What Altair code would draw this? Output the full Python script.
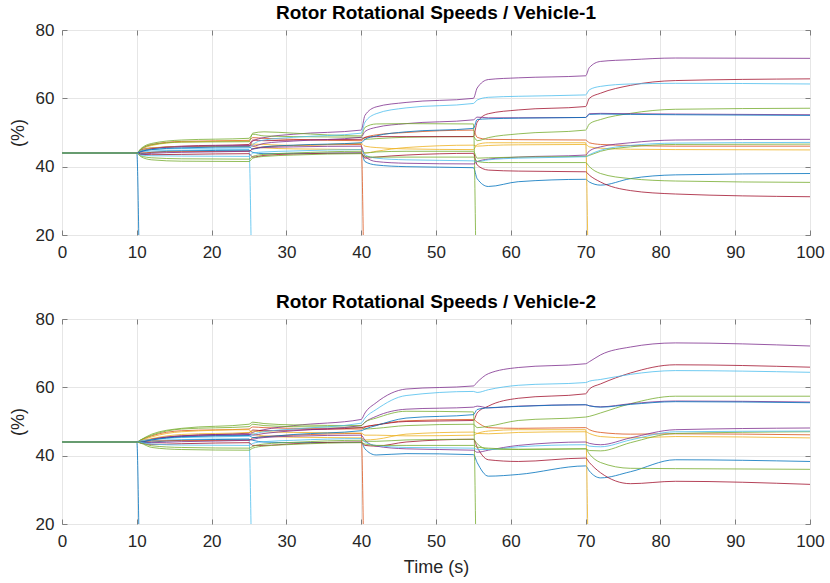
import altair as alt
import pandas as pd

# Time grid shared by every series (s)
TIME = [0, 10, 10.5, 12, 16, 25, 25.5, 27, 31, 40, 40.5, 42, 46, 55, 55.5, 57, 61, 70, 70.5, 72, 76, 82, 100]

ROTORS = ["R01", "R02", "R03", "R04", "R05", "R06", "R07", "R08", "R09", "R10",
          "R11", "R12", "R13", "R14", "R15", "R16", "R17", "R18", "R19"]
COLORS = ["#0072BD", "#D95319", "#EDB120", "#7E2F8E", "#77AC30", "#4DBEEE", "#A2142F",
          "#0072BD", "#D95319", "#EDB120", "#7E2F8E", "#77AC30", "#4DBEEE", "#A2142F",
          "#0072BD", "#7E2F8E", "#77AC30", "#4DBEEE", "#77AC30"]

X_TICKS = [0, 10, 20, 30, 40, 50, 60, 70, 80, 90, 100]
Y_TICKS = [20, 40, 60, 80]

# ---------------- Vehicle-1 ----------------
V1_R01 = [44, 44, 0, 0, 0, 0, 0, 0, 0, 0, 0, 0, 0, 0, 0, 0, 0, 0, 0, 0, 0, 0, 0]
V1_R02 = [44, 44, 45.0, 46.5, 47.4, 47.7, 48.5, 48.3, 48.0, 47.6, 48.5, 49.3, 50.0, 50.7, 48.6, 48.0, 47.9, 47.8, 47.0, 46.5, 46.2, 46.0, 46.0]
V1_R03 = [44, 44, 44.8, 46.2, 47.2, 47.5, 46.0, 45.5, 45.2, 45.0, 44.0, 44.5, 45.6, 46.3, 46.0, 46.2, 46.4, 46.5, 45.8, 45.4, 45.1, 45.0, 44.9]
V1_R04 = [44, 44, 44.8, 45.5, 45.8, 46.0, 47.5, 48.5, 49.5, 50.7, 55.0, 57.5, 58.8, 60.0, 63.0, 65.5, 66.0, 66.6, 69.0, 70.8, 71.3, 71.8, 71.7]
V1_R05 = [44, 44, 45.2, 46.8, 47.8, 48.3, 49.5, 49.0, 48.8, 48.6, 48.0, 48.2, 48.6, 48.8, 47.6, 48.5, 49.6, 50.7, 52.5, 53.8, 55.6, 56.8, 57.1]
V1_R06 = [44, 44, 44.2, 44.6, 44.8, 45.0, 0, 0, 0, 0, 0, 0, 0, 0, 0, 0, 0, 0, 0, 0, 0, 0, 0]
V1_R07 = [44, 44, 44.5, 45.3, 46.0, 46.5, 47.8, 47.6, 47.8, 48.0, 48.6, 48.8, 48.8, 48.8, 53.0, 55.5, 56.6, 57.6, 60.0, 61.5, 63.8, 65.2, 65.7]
V1_R08 = [44, 44, 43.8, 44.2, 44.6, 44.8, 44.2, 43.8, 43.9, 44.0, 41.5, 40.5, 40.0, 39.7, 36.5, 34.2, 35.6, 36.3, 35.5, 34.6, 36.5, 37.6, 38.0]
V1_R09 = [44, 44, 44.0, 44.2, 44.4, 44.5, 45.2, 45.8, 46.2, 46.5, 0, 0, 0, 0, 0, 0, 0, 0, 0, 0, 0, 0, 0]
V1_R10 = [44, 44, 44.6, 45.5, 45.9, 46.0, 46.6, 46.5, 46.2, 46.8, 46.0, 45.6, 45.2, 45.0, 46.5, 47.0, 47.0, 47.0, 0, 0, 0, 0, 0]
V1_R11 = [44, 44, 44.3, 45.2, 45.9, 46.2, 46.0, 46.8, 47.5, 48.6, 50.3, 51.5, 52.6, 53.7, 54.5, 54.3, 54.3, 54.4, 55.5, 55.6, 55.5, 55.4, 55.2]
V1_R12 = [44, 44, 45.0, 46.4, 47.2, 47.3, 49.8, 50.2, 49.8, 49.0, 51.5, 52.5, 52.6, 52.5, 0, 0, 0, 0, 0, 0, 0, 0, 0]
V1_R13 = [44, 44, 44.6, 45.0, 45.3, 45.5, 46.5, 47.8, 48.6, 49.8, 53.0, 55.5, 57.2, 58.5, 59.5, 60.3, 60.6, 61.0, 62.5, 63.5, 64.2, 64.4, 64.2]
V1_R14 = [44, 44, 43.6, 43.5, 43.6, 43.8, 42.8, 43.3, 43.7, 44.0, 42.5, 42.8, 43.4, 43.9, 40.5, 39.0, 38.7, 38.5, 37.5, 35.5, 33.0, 32.0, 31.2]
V1_R15 = [44, 44, 44.4, 45.0, 45.5, 45.8, 45.2, 45.8, 46.3, 47.0, 48.0, 49.0, 50.2, 51.2, 53.8, 54.0, 54.2, 54.4, 55.3, 55.4, 55.3, 55.2, 55.0]
V1_R16 = [44, 44, 43.6, 43.9, 44.2, 44.5, 45.2, 45.6, 45.8, 46.0, 43.0, 41.5, 41.0, 40.8, 41.5, 42.2, 42.8, 43.4, 44.6, 45.8, 47.0, 47.8, 48.0]
V1_R17 = [44, 44, 43.2, 42.6, 42.3, 42.2, 43.0, 43.6, 44.0, 44.5, 44.0, 44.3, 44.5, 44.5, 42.5, 42.6, 42.8, 43.0, 43.3, 44.5, 45.8, 46.5, 46.6]
V1_R18 = [44, 44, 43.4, 43.2, 43.1, 43.0, 44.0, 44.3, 44.6, 45.0, 43.5, 42.5, 42.0, 41.7, 41.5, 42.0, 42.5, 42.9, 43.5, 44.8, 46.2, 46.9, 47.1]
V1_R19 = [44, 44, 43.0, 42.0, 41.6, 41.5, 42.5, 43.0, 43.4, 43.8, 43.0, 42.8, 42.8, 42.8, 41.5, 41.2, 41.2, 41.2, 40.0, 38.0, 36.5, 35.8, 35.4]

# ---------------- Vehicle-2 ----------------
V2_R01 = [44, 44, 0, 0, 0, 0, 0, 0, 0, 0, 0, 0, 0, 0, 0, 0, 0, 0, 0, 0, 0, 0, 0]
V2_R02 = [44, 44, 44.5, 45.8, 47.3, 47.8, 48.4, 48.2, 48.0, 47.8, 48.3, 49.0, 50.2, 50.6, 49.8, 48.2, 48.0, 48.2, 47.6, 46.8, 46.3, 46.4, 46.1]
V2_R03 = [44, 44, 44.4, 45.5, 47.0, 47.6, 46.4, 45.8, 45.4, 45.2, 44.6, 44.8, 46.3, 46.9, 46.5, 46.4, 46.8, 47.0, 46.5, 45.6, 45.2, 45.6, 45.2]
V2_R04 = [44, 44, 44.3, 44.8, 45.6, 46.2, 46.8, 47.6, 48.8, 50.6, 52.5, 55.5, 59.5, 60.4, 61.5, 64.0, 65.8, 66.9, 67.5, 69.5, 71.8, 73.0, 72.1]
V2_R05 = [44, 44, 44.6, 46.0, 47.8, 48.5, 49.2, 48.8, 48.5, 48.3, 47.8, 48.0, 48.8, 49.2, 48.2, 48.6, 50.3, 51.3, 51.5, 52.5, 55.2, 57.4, 57.4]
V2_R06 = [44, 44, 44.1, 44.4, 44.7, 44.9, 0, 0, 0, 0, 0, 0, 0, 0, 0, 0, 0, 0, 0, 0, 0, 0, 0]
V2_R07 = [44, 44, 44.1, 44.8, 45.8, 46.6, 47.5, 47.3, 47.5, 48.2, 48.5, 49.0, 50.0, 50.3, 52.5, 54.5, 56.8, 58.1, 59.5, 61.0, 64.2, 66.6, 65.9]
V2_R08 = [44, 44, 43.8, 44.0, 44.5, 44.8, 44.5, 44.0, 43.8, 43.9, 42.0, 40.2, 40.6, 40.3, 38.0, 34.0, 34.5, 37.0, 35.5, 33.5, 35.3, 38.8, 38.3]
V2_R09 = [44, 44, 44.0, 44.3, 44.4, 44.5, 45.2, 45.6, 46.0, 46.5, 0, 0, 0, 0, 0, 0, 0, 0, 0, 0, 0, 0, 0]
V2_R10 = [44, 44, 44.2, 45.0, 46.2, 46.8, 47.2, 47.0, 46.8, 46.6, 46.0, 46.0, 45.8, 46.0, 46.5, 47.2, 47.6, 47.6, 0, 0, 0, 0, 0]
V2_R11 = [44, 44, 44.0, 44.8, 45.8, 46.3, 46.0, 46.5, 47.3, 48.8, 49.8, 51.5, 53.6, 54.2, 54.5, 54.0, 54.5, 54.9, 54.6, 54.3, 55.2, 56.0, 55.7]
V2_R12 = [44, 44, 44.6, 46.3, 48.0, 49.2, 49.8, 49.4, 49.0, 48.8, 49.8, 51.0, 53.0, 52.8, 0, 0, 0, 0, 0, 0, 0, 0, 0]
V2_R13 = [44, 44, 44.3, 44.7, 45.3, 45.7, 46.2, 47.0, 47.8, 49.5, 51.0, 53.5, 57.6, 58.8, 58.5, 59.3, 60.6, 61.4, 61.8, 62.3, 63.8, 64.9, 64.4]
V2_R14 = [44, 44, 43.7, 43.3, 43.5, 43.8, 43.0, 43.0, 43.5, 44.0, 43.0, 42.8, 44.0, 44.8, 42.5, 38.8, 38.3, 39.3, 38.0, 35.0, 31.8, 32.5, 31.6]
V2_R15 = [44, 44, 44.0, 44.6, 45.5, 45.9, 45.3, 45.5, 46.2, 47.3, 47.8, 48.8, 51.0, 52.0, 53.5, 54.0, 54.4, 54.9, 54.6, 54.2, 55.0, 55.8, 55.5]
V2_R16 = [44, 44, 43.8, 43.8, 44.1, 44.5, 44.8, 45.3, 45.7, 46.0, 44.5, 42.8, 42.0, 41.6, 41.0, 41.6, 43.0, 44.0, 43.6, 43.2, 45.2, 47.6, 48.1]
V2_R17 = [44, 44, 43.8, 42.9, 42.4, 42.2, 42.7, 43.4, 43.9, 44.5, 44.2, 44.2, 44.6, 44.8, 43.5, 41.9, 41.8, 42.0, 41.5, 41.4, 43.8, 46.5, 47.0]
V2_R18 = [44, 44, 43.9, 43.4, 43.1, 43.0, 43.6, 44.1, 44.5, 45.0, 44.0, 43.0, 42.4, 42.2, 41.8, 41.8, 42.6, 43.2, 42.8, 42.6, 44.6, 47.0, 47.2]
V2_R19 = [44, 44, 43.7, 42.4, 41.8, 41.6, 42.2, 42.8, 43.3, 43.8, 43.4, 43.0, 43.0, 43.0, 42.5, 42.2, 41.9, 42.0, 40.5, 38.0, 36.3, 36.2, 36.0]

V1 = [V1_R01, V1_R02, V1_R03, V1_R04, V1_R05, V1_R06, V1_R07, V1_R08, V1_R09, V1_R10,
      V1_R11, V1_R12, V1_R13, V1_R14, V1_R15, V1_R16, V1_R17, V1_R18, V1_R19]
V2 = [V2_R01, V2_R02, V2_R03, V2_R04, V2_R05, V2_R06, V2_R07, V2_R08, V2_R09, V2_R10,
      V2_R11, V2_R12, V2_R13, V2_R14, V2_R15, V2_R16, V2_R17, V2_R18, V2_R19]


def frame(series):
    rows = []
    for name, vals in zip(ROTORS, series):
        for t, v in zip(TIME, vals):
            rows.append({"rotor": name, "t": t, "v": v})
    return pd.DataFrame(rows)


FONT = "Liberation Sans"
AX_COLOR = "#262626"
TICK_COLOR = "#7f7f7f"
GRID_COLOR = "#e6e6e6"


def panel(df, title, xtitle):
    xscale = alt.Scale(domain=[0, 100], nice=False, zero=False)
    yscale = alt.Scale(domain=[20, 80], nice=False, zero=False)
    xaxis_args = dict(values=X_TICKS, grid=True, gridColor=GRID_COLOR, domain=False,
                      ticks=True, tickSize=5, tickColor=TICK_COLOR, offset=-5,
                      labelFlush=False, labelPadding=9, labelFontSize=17, labelFont=FONT,
                      labelColor=AX_COLOR, titleFontSize=18, titleFont=FONT, titleColor=AX_COLOR,
                      titleFontWeight="normal", titlePadding=9)
    if xtitle:
        xaxis = alt.Axis(title=xtitle, **xaxis_args)
    else:
        xaxis = alt.Axis(title=None, **xaxis_args)
    yaxis = alt.Axis(values=Y_TICKS, title="(%)", grid=True, gridColor=GRID_COLOR, domain=False,
                     ticks=True, tickSize=5, tickColor=TICK_COLOR, offset=-5, labelFlush=False,
                     labelPadding=8, labelFontSize=17, labelFont=FONT, labelColor=AX_COLOR,
                     titleFontSize=18, titleFont=FONT, titleColor=AX_COLOR,
                     titleFontWeight="normal", titlePadding=8)
    lines = alt.Chart(df).mark_line(strokeWidth=1, clip=True, interpolate="monotone", opacity=0.8).encode(
        x=alt.X("t:Q", scale=xscale, axis=xaxis),
        y=alt.Y("v:Q", scale=yscale, axis=yaxis),
        color=alt.Color("rotor:N", scale=alt.Scale(domain=ROTORS, range=COLORS), legend=None),
    )
    mirror = alt.Chart(df).mark_point(opacity=0, clip=True).encode(
        x=alt.X("t:Q", scale=xscale,
                axis=alt.Axis(orient="top", values=X_TICKS, labels=False, title=None, grid=False,
                              domain=False, ticks=True, tickSize=5, tickColor=TICK_COLOR, offset=-5)),
        y=alt.Y("v:Q", scale=yscale,
                axis=alt.Axis(orient="right", values=Y_TICKS, labels=False, title=None, grid=False,
                              domain=False, ticks=True, tickSize=5, tickColor=TICK_COLOR, offset=-5)),
    )
    return alt.layer(lines, mirror).resolve_axis(x="independent", y="independent").properties(
        width=748, height=205,
        title=alt.TitleParams(title, fontSize=19, fontWeight="bold", font=FONT,
                              color="#000000", anchor="middle", offset=-2),
    )


top = panel(frame(V1), "Rotor Rotational Speeds / Vehicle-1", None)
bottom = panel(frame(V2), "Rotor Rotational Speeds / Vehicle-2", "Time (s)")

chart = alt.vconcat(top, bottom, spacing=31).properties(
    padding={"left": 8, "top": 3, "right": 4, "bottom": 4},
    background="white",
).configure_view(stroke="#7f7f7f", strokeWidth=1)

chart.save("out.html", embed_options={"renderer": "svg", "actions": False})
